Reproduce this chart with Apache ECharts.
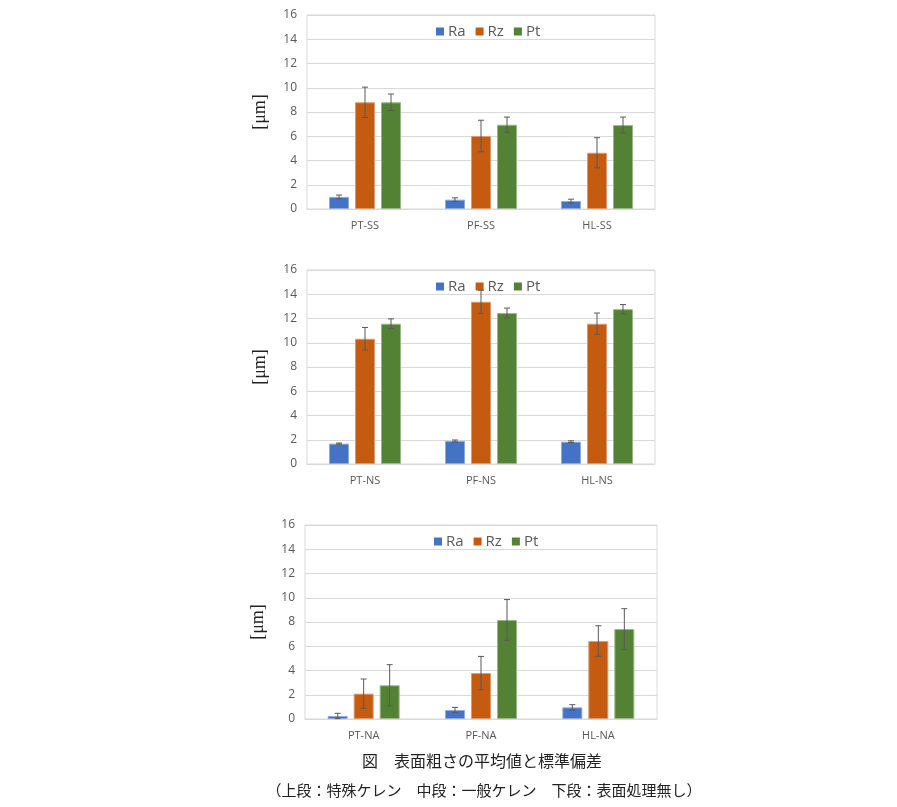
<!DOCTYPE html>
<html lang="ja">
<head>
    <meta charset="UTF-8">
    <title>表面粗さの平均値と標準偏差</title>
    <script src="https://cdn.jsdelivr.net/npm/echarts@6.0.0/dist/echarts.min.js"></script>
    <style>
        html, body { margin: 0; padding: 0; background: #fff; }
        #main { width: 897px; height: 807px; }
    </style>
</head>
<body>
    <div id="main"></div>
    <script>
        // series names
        var seriesNames = ['Ra', 'Rz', 'Pt'];

        // top panel: 特殊ケレン
        var ssCategories = ['PT-SS', 'PF-SS', 'HL-SS'];
        var ssRa = [1.0, 0.77, 0.66];
        var ssRz = [8.8, 6.02, 4.64];
        var ssPt = [8.8, 6.95, 6.92];
        var ssRaSd = [0.15, 0.15, 0.15];
        var ssRzSd = [1.25, 1.3, 1.24];
        var ssPtSd = [0.68, 0.63, 0.66];

        // middle panel: 一般ケレン
        var nsCategories = ['PT-NS', 'PF-NS', 'HL-NS'];
        var nsRa = [1.68, 1.9, 1.84];
        var nsRz = [10.33, 13.38, 11.57];
        var nsPt = [11.57, 12.45, 12.77];
        var nsRaSd = [0.05, 0.08, 0.07];
        var nsRzSd = [0.93, 0.96, 0.88];
        var nsPtSd = [0.4, 0.41, 0.38];

        // bottom panel: 表面処理無し
        var naCategories = ['PT-NA', 'PF-NA', 'HL-NA'];
        var naRa = [0.25, 0.74, 0.96];
        var naRz = [2.09, 3.79, 6.43];
        var naPt = [2.78, 8.17, 7.42];
        var naRaSd = [0.22, 0.22, 0.22];
        var naRzSd = [1.21, 1.37, 1.26];
        var naPtSd = [1.7, 1.68, 1.68];

        var yTicks = [0, 2, 4, 6, 8, 10, 12, 14, 16];

        var colors = ['#4472C4', '#C55A11', '#548235'];
        var borders = ['#8faadc', '#e0996b', '#98b986'];
        var barWidth = 20;
        var barStep = 26; // bar width + gap in px

        var panels = [
            { cats: ssCategories, means: [ssRa, ssRz, ssPt], sds: [ssRaSd, ssRzSd, ssPtSd], left: 307, top: 15, width: 348 },
            { cats: nsCategories, means: [nsRa, nsRz, nsPt], sds: [nsRaSd, nsRzSd, nsPtSd], left: 307, top: 270, width: 348 },
            { cats: naCategories, means: [naRa, naRz, naPt], sds: [naRaSd, naRzSd, naPtSd], left: 305, top: 525, width: 352 }
        ];

        function errorRenderer(offset) {
            return function (params, api) {
                var x = api.value(0), m = api.value(1), s = api.value(2);
                var hi = api.coord([x, m + s]);
                var lo = api.coord([x, m - s]);
                var cx = hi[0] + offset;
                var st = { stroke: '#595959', lineWidth: 1 };
                return {
                    type: 'group',
                    children: [
                        { type: 'line', shape: { x1: cx, y1: hi[1], x2: cx, y2: lo[1] }, style: st },
                        { type: 'line', shape: { x1: cx - 3, y1: hi[1], x2: cx + 3, y2: hi[1] }, style: st },
                        { type: 'line', shape: { x1: cx - 3, y1: lo[1], x2: cx + 3, y2: lo[1] }, style: st }
                    ]
                };
            };
        }

        var grid = [], xAxis = [], yAxis = [], legend = [], series = [];

        panels.forEach(function (p, k) {
            grid.push({
                left: p.left, top: p.top, width: p.width, height: 194,
                show: true, borderColor: '#d9d9d9', borderWidth: 1, backgroundColor: '#fff'
            });
            xAxis.push({
                type: 'category', gridIndex: k, data: p.cats,
                axisLine: { lineStyle: { color: '#d9d9d9' } },
                axisTick: { show: false },
                axisLabel: { color: '#595959', fontSize: 11, fontFamily: 'Open Sans', margin: 11 }
            });
            yAxis.push({
                type: 'value', gridIndex: k, min: yTicks[0], max: yTicks[yTicks.length - 1], interval: 2,
                name: '[μm]', nameLocation: 'middle', nameRotate: 90, nameGap: 38,
                nameTextStyle: { fontFamily: 'Liberation Serif', fontSize: 18, color: '#222' },
                axisLine: { show: false }, axisTick: { show: false },
                splitLine: { lineStyle: { color: '#d9d9d9' } },
                axisLabel: { color: '#595959', fontSize: 12, fontFamily: 'Open Sans', margin: 10 }
            });
            legend.push({
                data: seriesNames.map(function (n) { return { name: n, icon: 'rect', itemStyle: { borderWidth: 0 } }; }),
                left: p.left + 124, top: p.top + 4,
                itemWidth: 8, itemHeight: 8, itemGap: 10,
                textStyle: { color: '#595959', fontSize: 15, fontFamily: 'Open Sans', padding: [0, 0, 0, -1] }
            });
            seriesNames.forEach(function (name, i) {
                series.push({
                    name: name, type: 'bar', xAxisIndex: k, yAxisIndex: k,
                    data: p.means[i], barWidth: barWidth, barGap: '30%',
                    itemStyle: { color: colors[i], borderColor: borders[i], borderWidth: 1 },
                    z: 2
                });
            });
            seriesNames.forEach(function (name, i) {
                series.push({
                    type: 'custom', xAxisIndex: k, yAxisIndex: k,
                    data: p.cats.map(function (c, j) { return [j, p.means[i][j], p.sds[i][j]]; }),
                    encode: { x: 0, y: 1 },
                    renderItem: errorRenderer((i - 1) * barStep),
                    z: 5, silent: true
                });
            });
        });

        var chart = echarts.init(document.getElementById('main'));
        chart.setOption({
            animation: false,
            color: colors,
            grid: grid, xAxis: xAxis, yAxis: yAxis, legend: legend, series: series,
            graphic: [
                {
                    type: 'text', x: 482, y: 761,
                    style: { text: '図　表面粗さの平均値と標準偏差', textAlign: 'center', textVerticalAlign: 'middle',
                             font: '16px "Noto Sans CJK JP"', fill: '#222' }
                },
                {
                    type: 'text', x: 484, y: 790,
                    style: { text: '（上段：特殊ケレン　中段：一般ケレン　下段：表面処理無し）', textAlign: 'center', textVerticalAlign: 'middle',
                             font: '15px "Noto Sans CJK JP"', fill: '#222' }
                }
            ]
        });
    </script>
</body>
</html>
